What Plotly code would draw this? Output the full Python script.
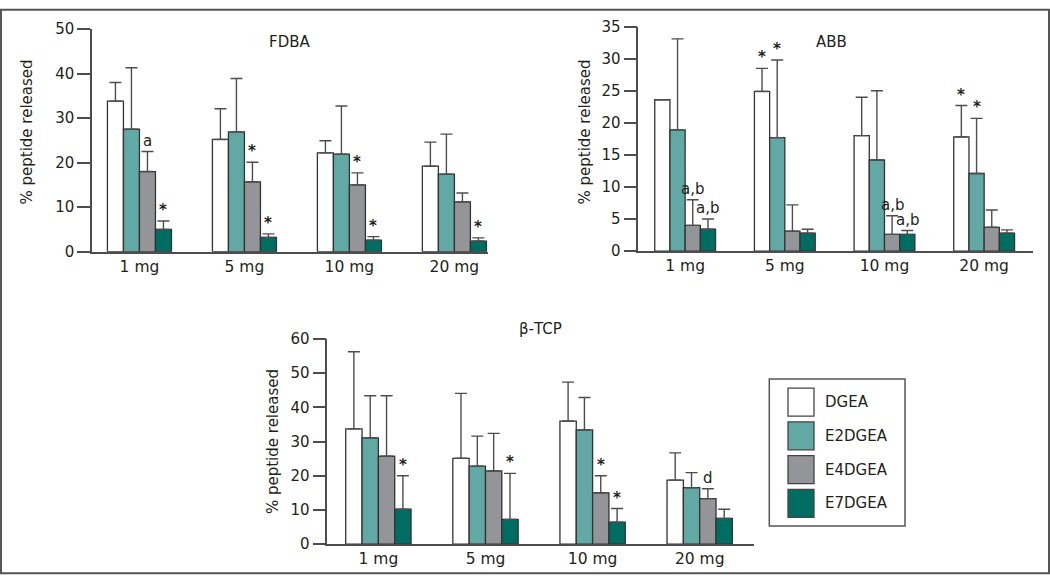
import plotly.graph_objects as go

# data
doses = ["1 mg", "5 mg", "10 mg", "20 mg"]
series = ["DGEA", "E2DGEA", "E4DGEA", "E7DGEA"]
colors = ["#ffffff", "#62a8a4", "#939598", "#006d63"]

# FDBA: means and upper SD, one list per peptide
fdba_mean = [[33.8, 25.2, 22.2, 19.2],
             [27.5, 26.9, 21.9, 17.4],
             [18.0, 15.7, 15.0, 11.2],
             [5.0, 3.2, 2.6, 2.4]]
fdba_sd = [[4.2, 6.9, 2.7, 5.4],
           [13.8, 12.0, 10.8, 9.0],
           [4.5, 4.4, 2.7, 2.0],
           [1.9, 0.8, 0.8, 0.7]]
fdba_marks = [(0, 2, "a"), (0, 3, "*"), (1, 2, "*"), (1, 3, "*"),
              (2, 2, "*"), (2, 3, "*"), (3, 3, "*")]

abb_mean = [[23.6, 24.9, 18.0, 17.8],
            [18.9, 17.7, 14.2, 12.1],
            [4.0, 3.1, 2.6, 3.7],
            [3.4, 2.8, 2.6, 2.8]]
abb_sd = [[0.0, 3.6, 6.0, 4.9],
          [14.2, 12.1, 10.8, 8.6],
          [4.0, 4.1, 2.9, 2.7],
          [1.6, 0.6, 0.6, 0.5]]
abb_marks = [(0, 2, "a,b"), (0, 3, "a,b"), (1, 0, "*"), (1, 1, "*"),
             (2, 2, "a,b"), (2, 3, "a,b"), (3, 0, "*"), (3, 1, "*")]

tcp_mean = [[33.7, 25.1, 36.0, 18.7],
            [31.1, 22.8, 33.4, 16.5],
            [25.7, 21.4, 15.0, 13.3],
            [10.2, 7.2, 6.4, 7.5]]
tcp_sd = [[22.6, 19.0, 11.4, 8.0],
          [12.3, 8.8, 9.5, 4.4],
          [17.7, 11.0, 5.0, 2.9],
          [9.8, 13.5, 4.0, 2.7]]
tcp_marks = [(0, 3, "*"), (1, 3, "*"), (2, 2, "*"), (2, 3, "*"), (3, 2, "d")]

W, H = 1050, 583
FONT = "DejaVu Sans"
INK = "#231f20"
AXIS = "#4d4d4d"
BARGAP = 0.39
# the page photo came out squeezed vertically (~9px band top and bottom);
# place things so they land where the reference has them
Y_OFF, Y_SCALE = 9.0, 0.969


def px(x):
    return x / W


def py(y):
    y = (y - Y_OFF) / Y_SCALE
    return min(max(1 - y / H, 0.0), 1.0)


def label(text, x, y, size=15, angle=0, xanchor="center"):
    return dict(text=text, xref="paper", yref="paper", x=px(x), y=py(y),
                xanchor=xanchor, yanchor="middle", textangle=angle,
                showarrow=False, font=dict(family=FONT, size=size, color=INK))


panels = [
    dict(name="FDBA", mean=fdba_mean, sd=fdba_sd, marks=fdba_marks, ax="",
         xdom=(92, 488), ydom=(251.7, 29), ymax=50, dtick=10, xr=[-0.452, 3.32],
         title_at=(289, 42), ytitle_at=(27.5, 132)),
    dict(name="ABB", mean=abb_mean, sd=abb_sd, marks=abb_marks, ax="2",
         xdom=(638.3, 1033), ydom=(251, 26.7), ymax=35, dtick=5, xr=[-0.47, 3.49],
         title_at=(831, 42), ytitle_at=(585.5, 132)),
    dict(name="β-TCP", mean=tcp_mean, sd=tcp_sd, marks=tcp_marks, ax="3",
         xdom=(327.3, 754), ydom=(544, 339), ymax=60, dtick=10, xr=[-0.477, 3.507],
         title_at=(540, 329), ytitle_at=(273, 442)),
]

fig = go.Figure()
annotations = []
shapes = []
bw = (1 - BARGAP) / len(series)

for p in panels:
    for i, s in enumerate(series):
        fig.add_trace(go.Bar(
            x=doses, y=p["mean"][i], name=s,
            xaxis="x" + p["ax"], yaxis="y" + p["ax"],
            marker=dict(color=colors[i], line=dict(color="#333333", width=1.3)),
            error_y=dict(type="data", array=p["sd"][i], arrayminus=[0] * 4,
                         symmetric=False, color=AXIS, thickness=1.4, width=6),
            showlegend=False,
        ))

    xa = "xaxis" + p["ax"]
    ya = "yaxis" + p["ax"]
    fig.layout[xa] = dict(
        domain=[px(p["xdom"][0]), px(p["xdom"][1])], anchor="y" + p["ax"],
        range=p["xr"], showline=True, linecolor=AXIS, linewidth=1.5,
        ticks="", showgrid=False, zeroline=False,
        tickfont=dict(family=FONT, size=15.5, color=INK),
    )
    fig.layout[ya] = dict(
        domain=[py(p["ydom"][0]), py(p["ydom"][1])], anchor="x" + p["ax"],
        range=[0, p["ymax"]], dtick=p["dtick"], showline=True, linecolor=AXIS,
        linewidth=1.5, ticks="outside", ticklen=13, tickwidth=1.5, tickcolor=AXIS,
        showgrid=False, zeroline=False,
        tickfont=dict(family=FONT, size=15, color=INK),
    )

    # panel title and y-axis title
    annotations.append(label(p["name"], *p["title_at"]))
    annotations.append(label("% peptide released", *p["ytitle_at"], size=15, angle=-90))

    # significance marks above the error bars
    for d, s, txt in p["marks"]:
        top = p["mean"][s][d] + p["sd"][s][d]
        text = "<b>*</b>" if txt == "*" else txt
        annotations.append(dict(
            text=text, xref="x" + p["ax"], yref="y" + p["ax"],
            x=d + (s - 1.5) * bw, y=top, xanchor="center", yanchor="bottom",
            showarrow=False, font=dict(family=FONT, size=15, color=INK)))

# hand-drawn legend box with large swatches
shapes.append(dict(type="rect", xref="paper", yref="paper",
                   x0=px(769.3), x1=px(905), y0=py(526), y1=py(379),
                   line=dict(color="#555555", width=1.5), fillcolor="white"))
for i, s in enumerate(series):
    top = 388 + i * 33.8
    shapes.append(dict(type="rect", xref="paper", yref="paper",
                       x0=px(788), x1=px(814), y0=py(top + 28), y1=py(top),
                       line=dict(color="#444444", width=1.3), fillcolor=colors[i]))
    annotations.append(label(s, 823, top + 14, xanchor="left"))

# outer frame
shapes.append(dict(type="rect", xref="paper", yref="paper",
                   x0=px(1), x1=px(1049), y0=0.0015, y1=0.9985,
                   line=dict(color="#555555", width=2)))

fig.update_layout(
    width=W, height=H, margin=dict(l=0, r=0, t=0, b=0),
    barmode="group", bargap=BARGAP, bargroupgap=0,
    paper_bgcolor="white", plot_bgcolor="white",
    showlegend=False, annotations=annotations, shapes=shapes,
)

reset = "margin:0;padding:0;overflow:hidden;height:%dpx;" % H
fig.write_html("out.html", config={"displayModeBar": False},
               post_script="document.documentElement.style.cssText='%s';"
                           "document.body.style.cssText='%s';" % (reset, reset))
